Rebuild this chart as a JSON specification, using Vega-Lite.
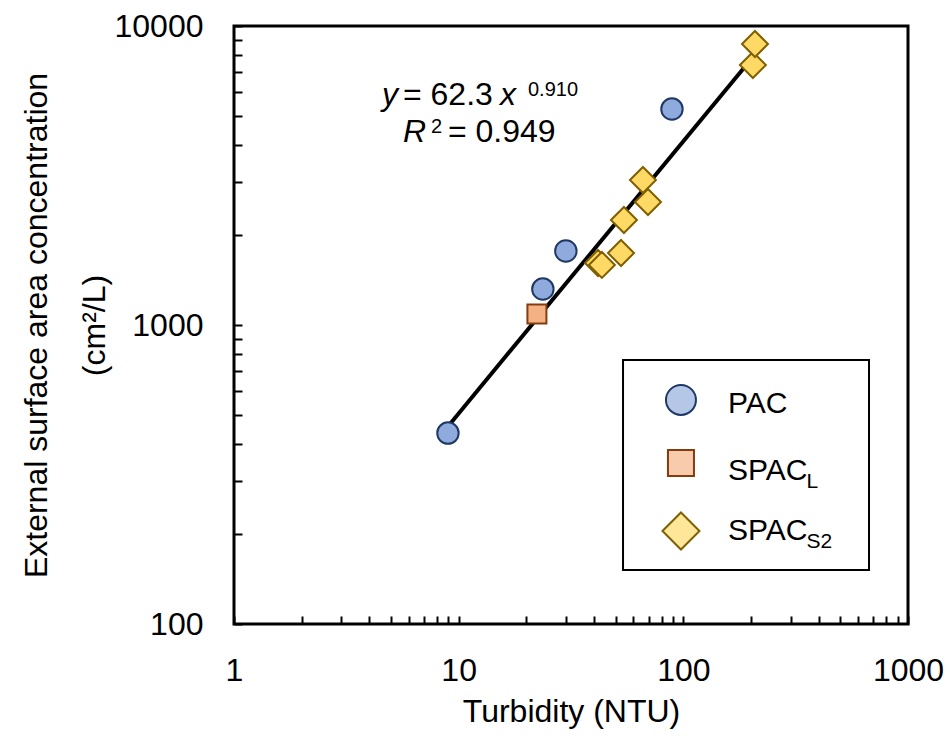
{
  "$schema": "https://vega.github.io/schema/vega-lite/v6.json",
  "width": 674,
  "height": 598,
  "autosize": {"type": "none"},
  "padding": {"left": 234, "top": 26, "right": 42, "bottom": 112},
  "background": "white",
  "config": {
    "font": "Liberation Sans",
    "view": {"stroke": "black", "strokeWidth": 3},
    "axis": {
      "domain": false,
      "grid": false,
      "tickColor": "black",
      "tickWidth": 2,
      "tickSize": -8,
      "labelFontSize": 32,
      "labelColor": "black",
      "labelFont": "Liberation Sans",
      "titleFont": "Liberation Sans",
      "titleFontSize": 32,
      "titleFontWeight": "normal",
      "titleColor": "black",
      "labelOverlap": false,
      "labelFlush": false,
      "labelBound": false,
      "format": "d"
    }
  },
  "datasets": {
    "points": [
      {"series": "PAC", "x": 8.96, "y": 435},
      {"series": "PAC", "x": 23.7, "y": 1319},
      {"series": "PAC", "x": 30.0, "y": 1768},
      {"series": "PAC", "x": 89.0, "y": 5277},
      {"series": "SPACL", "x": 22.3, "y": 1088},
      {"series": "SPACS2", "x": 204, "y": 7407},
      {"series": "SPACS2", "x": 208.4, "y": 8706},
      {"series": "SPACS2", "x": 66.1, "y": 3055},
      {"series": "SPACS2", "x": 69.6, "y": 2579},
      {"series": "SPACS2", "x": 54.4, "y": 2245},
      {"series": "SPACS2", "x": 52.8, "y": 1741},
      {"series": "SPACS2", "x": 41.7, "y": 1612},
      {"series": "SPACS2", "x": 43.4, "y": 1588}
    ],
    "fit": [
      {"x": 8.96, "y": 458},
      {"x": 208, "y": 8019}
    ],
    "legendbox": [
      {"x": 53.9, "x2": 670.6, "y": 763.6, "y2": 151.6}
    ],
    "legsym": [
      {"series": "PAC", "x": 97.6, "y": 561.4},
      {"series": "SPACL", "x": 97.6, "y": 345.6},
      {"series": "SPACS2", "x": 97.6, "y": 204.6}
    ],
    "legtext": [
      {"label": "PAC", "x": 158, "y": 507.8},
      {"label": "SPAC", "x": 158, "y": 303.0},
      {"label": "SPAC", "x": 158, "y": 191.0}
    ],
    "legsub": [
      {"label": "L", "x": 353, "y": 285},
      {"label": "S2", "x": 353, "y": 179.6}
    ],
    "eqi": [
      {"label": "y", "x": 4.56, "y": 5443},
      {"label": "x", "x": 15.28, "y": 5443},
      {"label": "R", "x": 5.65, "y": 4092}
    ],
    "eqr": [
      {"label": "= 62.3", "x": 5.65, "y": 5443},
      {"label": "= 0.949", "x": 8.96, "y": 4092}
    ],
    "eqs": [
      {"label": "0.910", "x": 20.35, "y": 5833},
      {"label": "2", "x": 7.53, "y": 4386}
    ]
  },
  "encoding": {
    "x": {
      "field": "x",
      "type": "quantitative",
      "scale": {"type": "log", "domain": [1, 1000], "nice": false},
      "axis": {
        "title": "Turbidity (NTU)",
        "values": [1, 2, 3, 4, 5, 6, 7, 8, 9, 10, 20, 30, 40, 50, 60, 70, 80, 90, 100, 200, 300, 400, 500, 600, 700, 800, 900, 1000],
        "labelExpr": "(datum.value == 1 || datum.value == 10 || datum.value == 100 || datum.value == 1000) ? datum.label : ''",
        "labelPadding": 39,
        "titlePadding": 10
      }
    },
    "y": {
      "field": "y",
      "type": "quantitative",
      "scale": {"type": "log", "domain": [100, 10000], "nice": false},
      "axis": {
        "title": ["External surface area concentration", "(cm²/L)"],
        "titleLineHeight": 58,
        "values": [100, 200, 300, 400, 500, 600, 700, 800, 900, 1000, 2000, 3000, 4000, 5000, 6000, 7000, 8000, 9000, 10000],
        "labelExpr": "(datum.value == 100 || datum.value == 1000 || datum.value == 10000) ? datum.label : ''",
        "labelPadding": 39,
        "titlePadding": 3
      }
    }
  },
  "layer": [
    {
      "data": {"name": "legendbox"},
      "mark": {"type": "rect", "fill": "white", "stroke": "black", "strokeWidth": 2},
      "encoding": {"x2": {"field": "x2"}, "y2": {"field": "y2"}}
    },
    {
      "data": {"name": "fit"},
      "mark": {"type": "line", "color": "black", "strokeWidth": 4},
      "encoding": {}
    },
    {
      "data": {"name": "points"},
      "transform": [{"filter": "datum.series == 'PAC'"}],
      "mark": {"type": "point", "shape": "circle", "filled": true, "fill": "#8faadc", "stroke": "#203864", "strokeWidth": 2, "size": 460, "opacity": 1}
    },
    {
      "data": {"name": "points"},
      "transform": [{"filter": "datum.series == 'SPACL'"}],
      "mark": {"type": "point", "shape": "square", "filled": true, "fill": "#f4b183", "stroke": "#843c0c", "strokeWidth": 2, "size": 361, "opacity": 1}
    },
    {
      "data": {"name": "points"},
      "transform": [{"filter": "datum.series == 'SPACS2'"}],
      "mark": {"type": "point", "shape": "diamond", "filled": true, "fill": "#ffd966", "stroke": "#7f6000", "strokeWidth": 2, "size": 676, "opacity": 1}
    },
    {
      "data": {"name": "legsym"},
      "transform": [{"filter": "datum.series == 'PAC'"}],
      "mark": {"type": "point", "shape": "circle", "filled": true, "fill": "#b4c7e7", "stroke": "#203864", "strokeWidth": 2, "size": 900, "opacity": 1}
    },
    {
      "data": {"name": "legsym"},
      "transform": [{"filter": "datum.series == 'SPACL'"}],
      "mark": {"type": "point", "shape": "square", "filled": true, "fill": "#f8cbad", "stroke": "#843c0c", "strokeWidth": 2, "size": 676, "opacity": 1}
    },
    {
      "data": {"name": "legsym"},
      "transform": [{"filter": "datum.series == 'SPACS2'"}],
      "mark": {"type": "point", "shape": "diamond", "filled": true, "fill": "#ffe699", "stroke": "#7f6000", "strokeWidth": 2, "size": 1369, "opacity": 1}
    },
    {
      "data": {"name": "legtext"},
      "mark": {"type": "text", "align": "left", "baseline": "alphabetic", "fontSize": 30, "color": "black"},
      "encoding": {"text": {"field": "label"}}
    },
    {
      "data": {"name": "legsub"},
      "mark": {"type": "text", "align": "left", "baseline": "alphabetic", "fontSize": 21, "color": "black"},
      "encoding": {"text": {"field": "label"}}
    },
    {
      "data": {"name": "eqi"},
      "mark": {"type": "text", "align": "left", "baseline": "alphabetic", "fontSize": 32, "fontStyle": "italic", "color": "black"},
      "encoding": {"text": {"field": "label"}}
    },
    {
      "data": {"name": "eqr"},
      "mark": {"type": "text", "align": "left", "baseline": "alphabetic", "fontSize": 32, "color": "black"},
      "encoding": {"text": {"field": "label"}}
    },
    {
      "data": {"name": "eqs"},
      "mark": {"type": "text", "align": "left", "baseline": "alphabetic", "fontSize": 20, "color": "black"},
      "encoding": {"text": {"field": "label"}}
    }
  ]
}
